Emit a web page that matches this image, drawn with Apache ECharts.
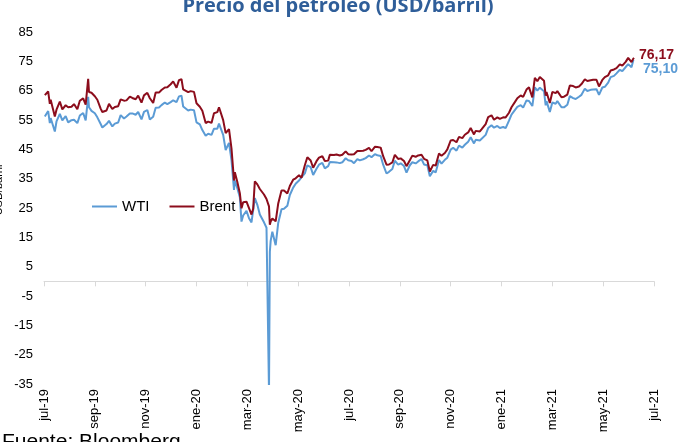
<!DOCTYPE html>
<html><head><meta charset="utf-8">
<script src="https://cdn.jsdelivr.net/npm/echarts@6/dist/echarts.min.js"></script>
<style>html,body{margin:0;padding:0;background:#fff;overflow:hidden}#c{width:692px;height:442px}</style>
</head><body><div id="c"></div>
<script>
const chartTitle = 'Precio del petróleo (USD/barril)';
const sourceText = 'Fuente: Bloomberg';
const yName = 'USD/barril';
const axisStart = '2019-07-25';
const tickLabels = ['jul-19','sep-19','nov-19','ene-20','mar-20','may-20','jul-20','sep-20','nov-20','ene-21','mar-21','may-21','jul-21'];

const dates = [
 '2019-07-26','2019-07-30',
 '2019-08-01','2019-08-02','2019-08-07','2019-08-09','2019-08-13','2019-08-16','2019-08-20','2019-08-23','2019-08-27','2019-08-30',
 '2019-09-03','2019-09-06','2019-09-10','2019-09-13','2019-09-16','2019-09-17','2019-09-20','2019-09-24','2019-09-27',
 '2019-10-01','2019-10-03','2019-10-08','2019-10-11','2019-10-15','2019-10-18','2019-10-22','2019-10-25','2019-10-29',
 '2019-11-01','2019-11-05','2019-11-08','2019-11-12','2019-11-15','2019-11-19','2019-11-22','2019-11-26','2019-11-29',
 '2019-12-03','2019-12-06','2019-12-10','2019-12-13','2019-12-17','2019-12-20','2019-12-24','2019-12-27','2019-12-31',
 '2020-01-03','2020-01-06','2020-01-08','2020-01-10','2020-01-14','2020-01-17','2020-01-21','2020-01-24','2020-01-28','2020-01-31',
 '2020-02-04','2020-02-07','2020-02-11','2020-02-14','2020-02-18','2020-02-20','2020-02-21','2020-02-25','2020-02-28',
 '2020-03-03','2020-03-06','2020-03-09','2020-03-10','2020-03-13','2020-03-16','2020-03-18','2020-03-20','2020-03-24','2020-03-27','2020-03-30',
 '2020-04-01','2020-04-03','2020-04-06','2020-04-09','2020-04-14','2020-04-17','2020-04-20','2020-04-21','2020-04-22','2020-04-24','2020-04-28',
 '2020-05-01','2020-05-05','2020-05-08','2020-05-12','2020-05-15','2020-05-19','2020-05-22','2020-05-26','2020-05-29',
 '2020-06-02','2020-06-05','2020-06-09','2020-06-12','2020-06-16','2020-06-19','2020-06-23','2020-06-26','2020-06-30',
 '2020-07-02','2020-07-07','2020-07-10','2020-07-14','2020-07-17','2020-07-21','2020-07-24','2020-07-28','2020-07-31',
 '2020-08-04','2020-08-07','2020-08-11','2020-08-14','2020-08-18','2020-08-21','2020-08-25','2020-08-28',
 '2020-09-01','2020-09-04','2020-09-08','2020-09-11','2020-09-15','2020-09-18','2020-09-22','2020-09-25','2020-09-29',
 '2020-10-02','2020-10-06','2020-10-09','2020-10-13','2020-10-16','2020-10-20','2020-10-23','2020-10-27','2020-10-30',
 '2020-11-03','2020-11-06','2020-11-10','2020-11-13','2020-11-17','2020-11-20','2020-11-24','2020-11-27',
 '2020-12-01','2020-12-04','2020-12-08','2020-12-11','2020-12-15','2020-12-18','2020-12-22','2020-12-24','2020-12-29','2020-12-31',
 '2021-01-05','2021-01-08','2021-01-12','2021-01-15','2021-01-19','2021-01-22','2021-01-26','2021-01-29',
 '2021-02-02','2021-02-05','2021-02-09','2021-02-12','2021-02-16','2021-02-19','2021-02-23','2021-02-26',
 '2021-03-02','2021-03-05','2021-03-08','2021-03-11','2021-03-16','2021-03-18','2021-03-19','2021-03-23','2021-03-26','2021-03-30',
 '2021-04-01','2021-04-06','2021-04-09','2021-04-13','2021-04-16','2021-04-20','2021-04-23','2021-04-27','2021-04-30',
 '2021-05-04','2021-05-07','2021-05-11','2021-05-14','2021-05-18','2021-05-21','2021-05-25','2021-05-28',
 '2021-06-01','2021-06-04','2021-06-08','2021-06-11','2021-06-15','2021-06-18','2021-06-22','2021-06-25','2021-06-29',
 '2021-07-01','2021-07-02'
];

const wti = [
 56.20,58.05,
 53.95,55.66,51.09,54.50,57.10,54.87,56.34,54.17,54.93,55.10,
 53.94,56.52,57.40,54.85,62.90,59.34,58.09,57.29,55.91,
 53.62,52.45,53.63,54.70,52.81,53.78,54.16,56.66,55.54,
 56.20,57.23,57.24,56.80,57.72,55.21,57.77,58.41,55.17,
 56.10,59.20,59.24,60.07,60.94,60.44,61.11,61.72,61.06,
 63.05,63.27,59.61,59.04,58.23,58.54,58.34,54.19,53.48,51.56,
 49.61,50.32,49.94,52.05,52.05,53.78,53.38,49.90,44.76,
 47.18,41.28,31.13,34.36,31.73,28.70,20.37,22.43,24.01,21.51,20.09,
 20.31,28.34,26.08,22.76,20.11,18.27,-37.63,10.01,13.78,16.94,12.34,
 19.78,24.56,24.74,25.78,29.43,31.96,33.25,34.35,35.49,
 36.81,39.55,38.94,36.26,38.38,39.75,40.37,38.49,39.27,
 40.65,40.62,40.55,40.29,40.59,41.96,41.29,41.04,40.27,
 41.70,41.22,41.61,42.01,42.89,42.34,43.35,42.97,
 42.76,39.77,36.76,37.33,38.28,41.11,39.80,40.25,39.29,
 37.05,39.57,40.60,40.20,40.88,41.70,39.85,39.57,35.79,
 37.66,37.14,41.36,40.13,41.43,42.15,44.91,45.53,
 44.55,46.26,45.60,46.57,47.62,49.10,47.02,48.23,48.00,48.52,
 49.93,52.24,53.21,52.36,52.98,52.27,52.61,52.20,
 54.76,56.85,58.36,59.47,60.05,59.24,61.67,61.50,
 59.75,66.09,65.05,66.02,64.80,60.00,61.42,57.76,60.97,60.55,
 61.45,59.33,59.32,60.18,63.13,62.44,62.14,62.94,63.58,
 65.69,64.90,65.28,65.37,65.49,63.58,66.07,66.32,
 67.72,69.62,70.05,70.91,72.12,71.64,73.06,74.05,72.98,
 75.23,75.10
];

const brent = [
 63.46,64.72,
 60.50,61.89,56.23,58.53,61.30,58.64,60.03,59.34,59.51,60.43,
 58.66,61.54,62.38,60.22,69.02,64.55,64.28,63.10,61.91,
 58.89,57.71,58.24,60.51,58.74,59.42,59.70,62.02,61.59,
 61.69,62.96,62.51,62.06,63.30,60.91,63.39,64.27,62.43,
 60.82,64.39,64.34,65.22,66.10,66.14,67.20,68.16,66.00,
 68.60,68.91,65.44,64.98,64.49,64.85,64.59,60.69,59.51,58.16,
 53.96,54.47,54.01,57.32,57.67,59.31,58.50,54.95,50.52,
 51.86,45.27,34.36,37.22,33.85,30.05,24.88,26.98,27.15,24.93,22.76,
 24.74,34.11,33.05,31.48,29.60,28.08,25.57,19.33,20.37,21.44,20.46,
 26.44,30.97,30.97,29.98,32.50,34.65,35.13,36.17,35.33,
 39.57,42.30,41.18,38.73,40.96,42.19,42.63,41.02,41.15,
 43.14,43.08,43.24,42.90,43.14,44.32,43.34,43.22,43.30,
 44.43,44.40,44.50,44.80,45.46,44.35,45.86,45.81,
 45.58,42.66,39.78,39.83,40.53,43.15,41.72,41.92,41.03,
 39.27,41.29,42.85,42.45,42.93,43.16,41.77,41.20,37.46,
 39.71,39.45,43.61,42.78,43.75,44.96,48.02,48.18,
 47.42,49.25,48.84,49.97,50.76,52.26,50.08,51.29,51.09,51.80,
 53.60,55.99,56.58,55.10,55.90,55.41,55.91,55.88,
 57.46,59.34,61.09,62.43,63.35,62.91,65.37,66.13,
 62.70,69.36,68.24,69.63,68.39,63.28,64.53,60.79,64.57,64.14,
 64.86,62.74,62.95,63.67,66.77,66.57,66.11,66.42,67.25,
 68.88,68.28,68.55,68.71,68.71,66.44,68.65,69.63,
 70.25,71.89,72.22,72.69,73.99,73.51,74.81,76.18,74.76,
 75.84,76.17
];

const C_WTI = '#5B9BD5';
const C_BRENT = '#8C0D1C';
const FONT = '"Liberation Sans", Arial, sans-serif';
const DAY = 86400000;
const t0 = Date.parse(axisStart + 'T00:00:00Z');
const dayOf = d => Math.round((Date.parse(d + 'T00:00:00Z') - t0) / DAY);
const toPairs = vals => dates.map((d, i) => [dayOf(d), vals[i]]);
const fmt = v => v.toFixed(2).replace('.', ',');
const STEP = 61;
const XMAX = STEP * (tickLabels.length - 1);

const chart = echarts.init(document.getElementById('c'), null, {renderer: 'canvas'});
chart.setOption({
  animation: false,
  backgroundColor: '#ffffff',
  grid: {left: 44, right: 38, top: 32, bottom: 58, containLabel: false},
  xAxis: [
    {type: 'value', min: 0, max: XMAX, interval: STEP,
     axisLine: {show: true, onZero: true, lineStyle: {color: '#d9d9d9', width: 1}},
     axisTick: {show: true, length: 5, lineStyle: {color: '#d9d9d9'}},
     axisLabel: {show: false}, splitLine: {show: false}},
    {type: 'value', min: 0, max: XMAX, interval: STEP, position: 'bottom',
     axisLine: {show: false, onZero: false}, axisTick: {show: false}, splitLine: {show: false},
     axisLabel: {rotate: 90, margin: 5, fontSize: 13, color: '#000', fontFamily: FONT,
       formatter: v => tickLabels[Math.round(v / STEP)] || ''}}
  ],
  yAxis: {type: 'value', min: -35, max: 85, interval: 10,
    axisLine: {show: false}, axisTick: {show: false}, splitLine: {show: false},
    axisLabel: {fontSize: 13, color: '#000', margin: 11, fontFamily: FONT}},
  legend: {left: 92, top: 199, padding: 0, icon: 'rect', itemWidth: 25, itemHeight: 2, itemGap: 20,
    textStyle: {fontSize: 15, color: '#000', fontFamily: FONT},
    data: ['WTI', 'Brent']},
  series: [
    {name: 'WTI', type: 'line', data: toPairs(wti), symbol: 'none', showSymbol: false,
     lineStyle: {color: C_WTI, width: 2}, itemStyle: {color: C_WTI}, z: 2,
     endLabel: {show: true, formatter: p => fmt(p.value[1]), color: C_WTI, fontWeight: 'bold',
       fontSize: 14, fontFamily: FONT, offset: [1, 8]}},
    {name: 'Brent', type: 'line', data: toPairs(brent), symbol: 'none', showSymbol: false,
     lineStyle: {color: C_BRENT, width: 2}, itemStyle: {color: C_BRENT}, z: 3,
     endLabel: {show: true, formatter: p => fmt(p.value[1]), color: C_BRENT, fontWeight: 'bold',
       fontSize: 14, fontFamily: FONT, offset: [-3, -3]}}
  ],
  graphic: [
    {type: 'text', x: 338, y: 16, style: {text: chartTitle, align: 'center', verticalAlign: 'bottom',
      font: 'bold 20px "Open Sans", sans-serif', fill: '#2F5E99'}},
    {type: 'text', x: 2, y: 432, style: {text: sourceText, align: 'left', verticalAlign: 'top',
      font: '21px ' + FONT, fill: '#000'}},
    {type: 'text', x: -1, y: 190, rotation: Math.PI / 2, style: {text: yName, align: 'center',
      verticalAlign: 'middle', font: '11px ' + FONT, fill: '#000'}}
  ]
});
</script></body></html>
